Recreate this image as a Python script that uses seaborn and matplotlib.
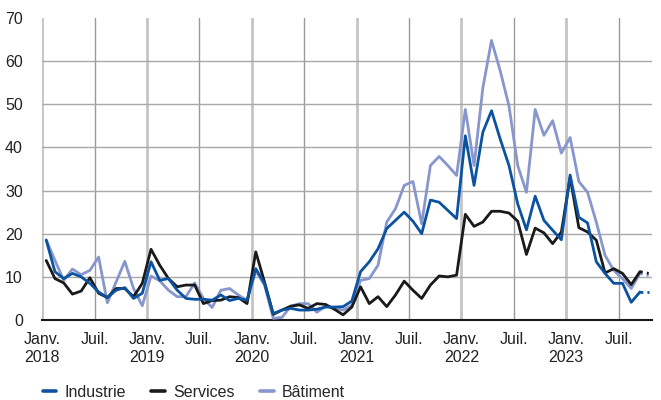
import pandas as pd
import numpy as np
import matplotlib
matplotlib.use("Agg")
import matplotlib.pyplot as plt
from matplotlib.lines import Line2D
import seaborn as sns

# Données mensuelles, janv. 2018 -> oct. 2023
industrie = [18.5, 11.2, 9.6, 10.8, 10.0, 8.5, 6.5, 5.2, 6.9, 7.5, 5.0, 6.2,
             13.5, 9.2, 9.6, 6.9, 5.0, 4.8, 4.8, 4.6, 5.8, 4.5, 5.0, 4.6,
             11.9, 8.5, 1.5, 2.3, 2.7, 2.3, 2.3, 2.5, 3.0, 3.0, 3.1, 4.4,
             11.2, 13.5, 16.5, 21.2, 23.1, 25.0, 22.9, 20.0, 27.8, 27.3, 25.4, 23.5,
             42.7, 31.2, 43.5, 48.5, 41.9, 35.8, 26.9, 20.9, 28.7, 23.1, 20.8, 18.6,
             33.6, 23.8, 22.5, 13.5, 10.8, 8.5, 8.5, 4.1, 6.5, 6.5]
services = [13.8, 9.6, 8.6, 6.0, 6.7, 9.8, 6.2, 5.2, 7.3, 7.3, 5.4, 8.5,
            16.4, 12.7, 9.6, 7.7, 8.1, 8.1, 3.8, 4.5, 4.6, 5.4, 5.2, 3.8,
            15.8, 8.8, 1.3, 2.3, 3.2, 3.5, 2.7, 3.8, 3.6, 2.5, 1.2, 3.0,
            7.7, 3.8, 5.4, 3.1, 5.8, 9.0, 6.9, 5.0, 8.1, 10.2, 10.0, 10.4,
            24.5, 21.7, 22.7, 25.2, 25.2, 24.8, 22.9, 15.2, 21.3, 20.2, 17.7, 20.4,
            33.1, 21.4, 20.4, 18.5, 10.9, 11.9, 10.8, 8.2, 11.2, 10.8]
batiment = [18.6, 13.8, 9.2, 11.8, 10.5, 11.5, 14.6, 4.0, 8.8, 13.6, 7.3, 3.3,
            10.2, 9.1, 6.9, 5.4, 5.4, 8.6, 5.0, 2.9, 6.9, 7.3, 5.8, 4.5,
            11.4, 8.1, 0.4, 0.6, 3.2, 3.8, 3.8, 1.8, 3.2, 2.8, 2.3, 3.4,
            9.2, 9.6, 12.7, 22.7, 25.8, 31.2, 32.1, 22.3, 35.8, 37.9, 35.8, 33.5,
            48.8, 35.8, 53.7, 64.8, 57.7, 49.6, 35.8, 29.6, 48.8, 42.8, 46.2, 38.7,
            42.3, 32.1, 29.6, 22.7, 15.0, 11.5, 9.6, 7.3, 10.8, 10.3]
annees = ["2018", "2019", "2020", "2021", "2022", "2023"]

series = {"Industrie": industrie, "Services": services, "Bâtiment": batiment}
couleurs = {"Industrie": "#0b53a0", "Services": "#1a1a1a", "Bâtiment": "#8796cc"}

# position du point au milieu du mois
mois = np.arange(len(industrie)) + 0.45

sns.set_style("white")
plt.rcParams['font.family'] = ['Liberation Sans', 'DejaVu Sans']

fig = plt.figure(figsize=(6.61, 4.0), dpi=100)
ax = fig.add_axes([0.064, 0.2, 0.922, 0.755])

for nom in ["Bâtiment", "Services", "Industrie"]:
    vals = series[nom]
    sns.lineplot(x=mois[:-1], y=vals[:-1], color=couleurs[nom], lw=2.0, ax=ax, zorder=3)
    # dernier point provisoire, en pointillés
    sns.lineplot(x=mois[-2:], y=vals[-2:], color=couleurs[nom], lw=2.0, ls=(0, (1, 1.5)), ax=ax, zorder=3)

ax.set_xlim(0, 69.8)
ax.set_ylim(0, 70)
ax.set_yticks(range(0, 71, 10))

ax.set_xticks(np.arange(0, 70, 12))
ax.set_xticklabels(["Janv.\n" + a for a in annees])
juil = np.arange(6, 70, 12)
ax.set_xticks(juil, minor=True)
ax.set_xticklabels(["Juil."] * len(juil), minor=True)

ax.grid(axis="x", which="major", color="#c4c4c4", lw=2.0)
ax.grid(axis="x", which="minor", color="#9a9a9a", lw=1.0)
ax.grid(axis="y", which="major", color="#a8a8a8", lw=1.0)
ax.get_ygridlines()[-1].set_visible(False)
ax.get_ygridlines()[0].set_visible(False)
ax.set_axisbelow(True)

for s in ["top", "right", "left"]:
    ax.spines[s].set_visible(False)
ax.spines["bottom"].set_color("#1a1a1a")
ax.spines["bottom"].set_linewidth(1.5)

ax.tick_params(axis="both", which="both", length=0, labelsize=11.5, colors="#222222")
ax.tick_params(axis="y", pad=14)
ax.tick_params(axis="x", which="both", pad=9)

handles = [Line2D([], [], color=couleurs[n], lw=2.6) for n in ["Industrie", "Services", "Bâtiment"]]
fig.legend(handles, ["Industrie", "Services", "Bâtiment"], loc="lower left",
           bbox_to_anchor=(0.043, -0.035), ncol=3, frameon=False, fontsize=11.5,
           handlelength=0.85, handletextpad=0.5, columnspacing=1.6)

ax.set_xlabel("")
ax.set_ylabel("")
fig.savefig("out.png", dpi=100)
